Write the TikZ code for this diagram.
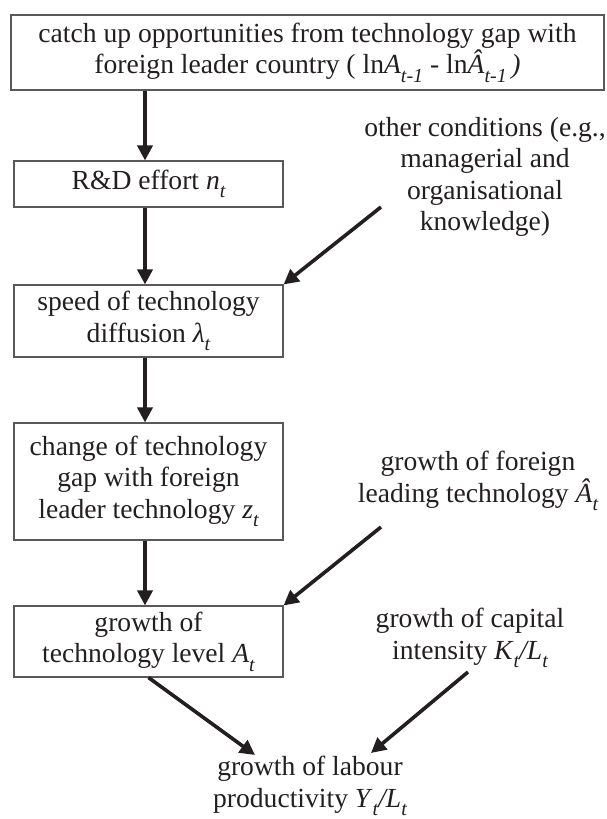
\documentclass[tikz,border=0pt]{standalone}
\usepackage{fontspec}
\setmainfont{Liberation Serif}
\usetikzlibrary{arrows.meta}
\definecolor{ink}{HTML}{231F20}
\newcommand\sbs[1]{\raisebox{-0.3em}{\fontsize{20}{20}\selectfont\itshape #1}}
\begin{document}
\begin{tikzpicture}[x=1pt,y=-1pt,
  every node/.style={font=\fontsize{27.6}{31.5}\selectfont, text=ink, align=center, inner sep=0pt},
  box/.style={draw=black!65, line width=1.1pt},
  arr/.style={draw=ink, line width=3.6pt, -{Triangle[length=15pt,width=15pt]}}]
\useasboundingbox (0,0) rectangle (606,819);
% boxes
\node[box, minimum width=593pt, minimum height=75pt] (top) at (307.5,52.5)
  {catch up opportunities from technology gap with\\
   foreign leader country ( ln\textit{A}\sbs{t-1} - ln\textit{Â}\sbs{t-1}\,\textit{)}};
\node[box, minimum width=269pt, minimum height=46pt] (rd) at (148.5,184)
  {R\&D effort \textit{n}\sbs{t}};
\node[box, minimum width=269pt, minimum height=72pt] (speed) at (148.5,321)
  {speed of technology\\ diffusion \textit{λ}\sbs{t}};
\node[box, minimum width=269pt, minimum height=117pt] (change) at (148.5,481.5)
  {change of technology\\ gap with foreign\\ leader technology \textit{z}\sbs{t}};
\node[box, minimum width=269pt, minimum height=71pt] (growth) at (148.5,641.5)
  {growth of\\ technology level \textit{A}\sbs{t}};
% free labels
\node (other) at (485,177)
  {other conditions (e.g.,\\ managerial and\\ organisational\\ knowledge)};
\node (foreign) at (478,481)
  {growth of foreign\\ leading technology \textit{Â}\sbs{t}};
\node (capital) at (470,638)
  {growth of capital\\ intensity \textit{K}\sbs{t}\textit{/L}\sbs{t}};
\node (labour) at (310,786)
  {growth of labour\\ productivity \textit{Y}\sbs{t}\textit{/L}\sbs{t}};
% helper coordinates
\coordinate (ax) at (145,0);
\coordinate (o1) at (381,207);
\coordinate (f1) at (381,527);
\coordinate (g2) at (255,755);
\coordinate (c1) at (468,672);
\coordinate (c2) at (371,753);
% connectors
\draw[arr] (top.south -| ax) -- (rd.north -| ax);
\draw[arr] (rd.south -| ax) -- (speed.north -| ax);
\draw[arr] (o1) -- (speed.north east);
\draw[arr] (speed.south -| ax) -- (change.north -| ax);
\draw[arr] (change.south -| ax) -- (growth.north -| ax);
\draw[arr] (f1) -- (growth.north east);
\draw[arr] (growth.south) -- (g2);
\draw[arr] (c1) -- (c2);
\end{tikzpicture}
\end{document}
